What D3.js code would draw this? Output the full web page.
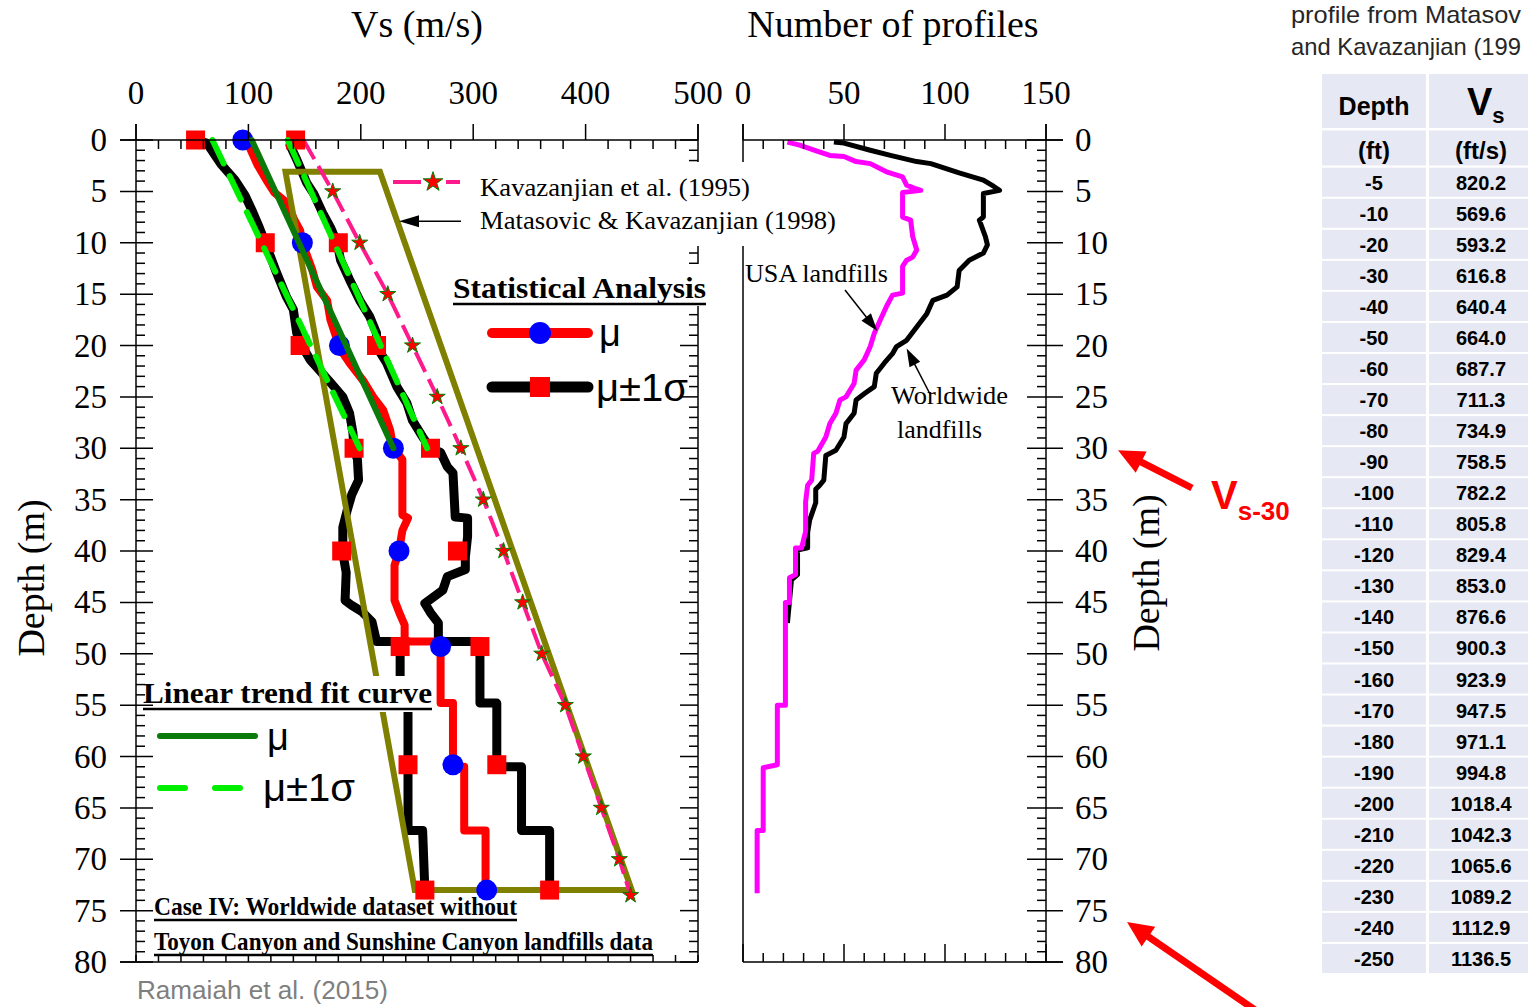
<!DOCTYPE html>
<html><head><meta charset="utf-8">
<script src="https://cdn.jsdelivr.net/npm/d3@7"></script>
<style>body{margin:0;background:#fff}svg{display:block}</style>
</head><body>
<svg id="c" width="1528" height="1007"></svg>
<script>
// ---------------- DATA ----------------
const vsTicks=[0,100,200,300,400,500];
const countTicks=[0,50,100,150];
const depthTicks=d3.range(0,81,5);

// statistical profiles [depth (m), Vs (m/s)]
const muMinusProfile=[[0,53],[0.3,63],[2.4,76],[3.9,88],[5.4,97],[6.8,103],[8.6,110],[10,115],[12.9,125],[15.3,134],[16.5,140],[18.8,143],[20.1,148],[21.4,155],[23.6,173],[25,184],[26.6,190],[28.5,193],[30,194],[31.1,197],[33.1,198],[34.5,192],[36,188],[37.7,184],[40.2,184],[42.1,187],[44.8,186],[45.3,192],[45.9,201],[46.9,210],[48.8,214],[48.8,235],[55,235],[55,242],[67.2,242],[67.2,255],[73,257]];
const muProfile=[[0,95],[0.7,101],[2.4,108],[3.9,116],[5.1,123],[6.1,134],[7.8,141],[8.8,146],[10,148],[12.7,157],[14.3,161],[15.6,170],[17.5,173],[19.5,179],[20.1,180],[21.7,190],[23.4,202],[25,211],[26.3,220],[28.2,226],[30,229],[31.1,237],[36.5,237],[36.8,242],[38,237],[40,234],[41.4,230],[44.8,230],[46.2,235],[47.2,239],[48.8,239],[48.8,271],[54.8,271],[54.8,282],[61,282],[61,292],[67.2,292],[67.2,311],[73,311]];
const muPlusProfile=[[0,138],[0.5,137],[1.9,143],[4.2,152],[5.2,158],[7.1,166],[8.5,173],[10,179],[11.7,182],[13.6,190],[15.6,199],[17.2,208],[18.8,214],[20.1,214],[21.7,223],[24,232],[25.6,241],[27.3,246],[28.9,255],[30,262],[30.4,271],[31.8,277],[32.4,282],[36.7,284],[36.8,295],[38.6,295],[40.6,293],[41.8,293],[42.5,277],[43.8,273],[45.1,257],[46,262],[47,269],[48.8,269],[48.8,306],[54.8,306],[54.8,321],[61,321],[61,343],[67.2,343],[67.2,368],[73,368]];
const markerDepths=[0,10,20,30,40,49.3,60.8,73];
const muMarkers=[95,148,181,229,234,271,282,312];
const muMinusMarkers=[53,115,146,194,183,235,242,257];
const muPlusMarkers=[142,180,214,262,286,306,321,368];
// linear trend fits
const trendMu=[[0,103],[30,229]];
const trendMinus=[[0,68],[30,199]];
const trendPlus=[[0,135],[30,259]];
// Kavazanjian et al. (1995)
const kavDepths=[0,5,10,15,20,25,30,35,40,45,50,55,60,65,70,73.5];
const kavVs=[149,175,199,224,246,268,289,309,327,344,361,382,398,414,430,440];
// Matasovic & Kavazanjian (1998) bounds
const matasovic=[[3.1,133],[3.1,217],[73,441],[73,248]];
// number of profiles [depth, count]
const worldwide=[[0.2,45],[0.3,50],[1,63],[1.5,73],[2.1,86],[2.3,93],[3.2,107],[3.9,119],[4.5,124],[4.9,127],[5.2,119],[7.5,119],[7.8,117],[9.4,120],[10.2,121],[11,119],[11.7,112],[12.7,107],[14.3,106],[15.1,101],[15.6,94],[16.9,91],[18.2,86],[19.5,81],[20.1,76],[20.8,74],[21.7,70],[22.7,66],[24,65],[24.7,60],[25.3,56],[26.6,55],[27.6,51],[28.9,50],[30.2,46],[30.7,41],[33.1,40],[33.6,38],[34,36],[35.3,36],[37,33],[38.2,32],[39.7,32],[39.9,27],[42.3,27],[42.8,24],[47,22]];
const usa=[[0.2,22],[0.5,28],[1.1,37],[1.5,43],[1.6,50],[2.1,56],[2.3,63],[3.1,71],[3.6,79],[4.4,81],[4.7,85],[4.9,88],[5,84],[5.1,79],[6.5,79],[7.5,79],[7.8,83],[9.4,84],[10.7,86],[11.4,84],[11.7,81],[12.3,79],[14.9,79],[15.1,74],[16.2,71],[17.5,68],[18.8,65],[20.1,63],[21.4,60],[22.4,56],[23.7,55],[25,51],[25.3,48],[26.6,46],[27.6,43],[28.9,41],[30.3,37],[30.5,35],[33.1,34],[33.6,32],[35.2,31],[38.1,31],[39.7,29],[39.7,26],[42.3,26],[42.6,23],[45,23],[45,21],[55,21],[55,17],[60.8,17],[61.1,10],[67.2,10],[67.2,7],[73.3,7]];
// table
const tableDepthFt=[-5,-10,-20,-30,-40,-50,-60,-70,-80,-90,-100,-110,-120,-130,-140,-150,-160,-170,-180,-190,-200,-210,-220,-230,-240,-250];
const tableVsFt=[820.2,569.6,593.2,616.8,640.4,664.0,687.7,711.3,734.9,758.5,782.2,805.8,829.4,853.0,876.6,900.3,923.9,947.5,971.1,994.8,1018.4,1042.3,1065.6,1089.2,1112.9,1136.5];

// ---------------- SETUP ----------------
const svg=d3.select('#c');
const serif="'Liberation Serif','Times New Roman',serif";
const sans="'Liberation Sans',Arial,sans-serif";
const xL=d3.scaleLinear().domain([0,500]).range([136,698]);
const xR=d3.scaleLinear().domain([0,150]).range([743,1046]);
const yD=d3.scaleLinear().domain([0,80]).range([140,962]);
const lineL=d3.line().x(d=>xL(d[1])).y(d=>yD(d[0]));
const lineR=d3.line().x(d=>xR(d[1])).y(d=>yD(d[0]));

function arrow(g,x1,y1,x2,y2,len,hw,color,w){
  const dx=x2-x1,dy=y2-y1,L=Math.hypot(dx,dy),ux=dx/L,uy=dy/L;
  const bx=x2-ux*len,by=y2-uy*len;
  g.append('line').attr('x1',x1).attr('y1',y1).attr('x2',bx+ux*2).attr('y2',by+uy*2)
    .attr('stroke',color).attr('stroke-width',w);
  g.append('path').attr('d',`M${x2},${y2}L${bx-uy*hw},${by+ux*hw}L${bx+uy*hw},${by-ux*hw}Z`).attr('fill',color);
}

// ---------------- LEFT PANEL DATA ----------------
const gL=svg.append('g');
const prof=(d,c,w)=>gL.append('path').attr('d',lineL(d)).attr('fill','none').attr('stroke',c)
  .attr('stroke-width',w).attr('stroke-linejoin','round').attr('stroke-linecap','round');
prof(muMinusProfile,'#000',9);
prof(muPlusProfile,'#000',9);
prof(muProfile,'#ff0000',8);
gL.append('path').attr('d',lineL(matasovic)+'Z').attr('fill','none').attr('stroke','#808000').attr('stroke-width',6);
const kav=kavDepths.map((d,i)=>[d,kavVs[i]]);
gL.append('path').attr('d',lineL(kav)).attr('fill','none').attr('stroke','#ff1a8c').attr('stroke-width',4).attr('stroke-dasharray','22,8');
const sq=19;
[muMinusMarkers,muPlusMarkers].forEach(arr=>{
  gL.selectAll(null).data(arr.map((v,i)=>[markerDepths[i],v])).enter().append('rect')
    .attr('x',d=>xL(d[1])-sq/2).attr('y',d=>yD(d[0])-sq/2).attr('width',sq).attr('height',sq).attr('fill','#ff0000');
});
gL.selectAll(null).data(muMarkers.map((v,i)=>[markerDepths[i],v])).enter().append('circle')
  .attr('cx',d=>xL(d[1])).attr('cy',d=>yD(d[0])).attr('r',10.5).attr('fill','#0000ff');
[trendMinus,trendPlus].forEach(t=>gL.append('path').attr('d',lineL(t)).attr('fill','none').attr('stroke','#00ee00')
  .attr('stroke-width',6).attr('stroke-dasharray','26,14').attr('stroke-linecap','round'));
gL.append('path').attr('d',lineL(trendMu)).attr('fill','none').attr('stroke','#0a7a0a').attr('stroke-width',6).attr('stroke-linecap','round');
const star=d3.symbol().type(d3.symbolStar);
gL.selectAll(null).data(kav.slice(1)).enter().append('path').attr('d',star.size(80)())
  .attr('transform',d=>`translate(${xL(d[1])},${yD(d[0])})`).attr('fill','#ff0000').attr('stroke','#008000').attr('stroke-width',1);

svg.append('rect').attr('x',140).attr('y',676).attr('width',296).attr('height',36).attr('fill','#fff');

// ---------------- RIGHT PANEL DATA ----------------
const gR=svg.append('g');
gR.append('path').attr('d',lineR(worldwide)).attr('fill','none').attr('stroke','#000').attr('stroke-width',5).attr('stroke-linejoin','round');
gR.append('path').attr('d',lineR(usa)).attr('fill','none').attr('stroke','#ff00ff').attr('stroke-width',5).attr('stroke-linejoin','round');

// ---------------- AXES ----------------
const ax=svg.append('g').attr('stroke','#000').attr('stroke-width',1.5);
const ln=(x1,y1,x2,y2)=>ax.append('line').attr('x1',x1).attr('y1',y1).attr('x2',x2).attr('y2',y2);
ln(120,yD(0),xL(500),yD(0)); ln(120,yD(80),xL(500),yD(80));
ln(xL(0),124,xL(0),yD(80)); ln(xL(500),124,xL(500),yD(80));
d3.range(0,501,20).forEach(v=>{
  if(v%100===0) ln(xL(v),124,xL(v),yD(0)); else ln(xL(v),yD(0),xL(v),yD(0)+9);
  ln(xL(v),yD(80),xL(v),yD(80)-7);
});
d3.range(0,81,1).forEach(d=>{
  if(d%5===0){ln(120,yD(d),153,yD(d)); ln(xL(500)-18,yD(d),xL(500),yD(d));}
  else{ln(xL(0),yD(d),xL(0)+9,yD(d)); ln(xL(500)-9,yD(d),xL(500),yD(d));}
});
ln(xR(0),yD(0),1063,yD(0)); ln(xR(0),yD(80),1063,yD(80));
ln(xR(0),124,xR(0),yD(80)); ln(xR(150),124,xR(150),yD(80));
d3.range(0,151,10).forEach(v=>{
  if(v%50===0){ln(xR(v),124,xR(v),yD(0)); ln(xR(v),yD(80),xR(v),yD(80)-18);}
  else{ln(xR(v),yD(0),xR(v),yD(0)+9); ln(xR(v),yD(80),xR(v),yD(80)-9);}
});
d3.range(0,81,1).forEach(d=>{
  if(d%5===0) ln(xR(150)-19,yD(d),1063,yD(d)); else ln(xR(150)-9,yD(d),xR(150),yD(d));
});

svg.append('rect').attr('x',470).attr('y',162).attr('width',372).attr('height',84).attr('fill','#fff');
svg.append('rect').attr('x',448).attr('y',264).attr('width',262).attr('height',42).attr('fill','#fff');

// ---------------- TEXT ----------------
const T=(x,y,s,o={})=>{const t=svg.append('text').attr('x',x).attr('y',y).text(s)
  .attr('font-family',o.f||serif).attr('font-size',o.s||33).attr('fill',o.c||'#000')
  .attr('text-anchor',o.a||'start').attr('font-weight',o.w||'normal');
  if(o.tl) t.attr('textLength',o.tl).attr('lengthAdjust','spacingAndGlyphs'); return t;};
vsTicks.forEach(v=>T(xL(v),104,v,{a:'middle'}));
countTicks.forEach(v=>T(xR(v),104,v,{a:'middle'}));
depthTicks.forEach(d=>{T(107,yD(d)+11,d,{a:'end'}); T(1075,yD(d)+11,d);});
T(417,37,'Vs (m/s)',{a:'middle',s:38});
T(893,37,'Number of profiles',{a:'middle',s:38});
T(0,0,'Depth (m)',{a:'middle',s:38}).attr('transform','translate(44,578) rotate(-90)');
T(0,0,'Depth (m)',{a:'middle',s:38}).attr('transform','translate(1159,573) rotate(-90)');

svg.append('line').attr('x1',393).attr('x2',421).attr('y1',182).attr('y2',182).attr('stroke','#ff1a8c').attr('stroke-width',4);
svg.append('line').attr('x1',446).attr('x2',460).attr('y1',182).attr('y2',182).attr('stroke','#ff1a8c').attr('stroke-width',4);
svg.append('path').attr('d',star.size(120)()).attr('transform','translate(433,182)').attr('fill','#ff0000').attr('stroke','#008000').attr('stroke-width',1);
T(480,196,'Kavazanjian et al. (1995)',{s:26,tl:270});
T(480,229,'Matasovic & Kavazanjian (1998)',{s:26,tl:356});
arrow(svg,461,yD(7.9),xL(234),yD(7.9),20,6,'#000',1.5);

const ul=(x,y,w,yy)=>svg.append('line').attr('x1',x).attr('x2',x+w).attr('y1',yy).attr('y2',yy).attr('stroke','#000').attr('stroke-width',2.5);
T(453,298,'Statistical Analysis',{s:30,w:'bold',tl:253}); ul(453,298,253,304);
svg.append('line').attr('x1',492).attr('x2',588).attr('y1',333).attr('y2',333).attr('stroke','#ff0000').attr('stroke-width',10).attr('stroke-linecap','round');
svg.append('circle').attr('cx',540).attr('cy',333).attr('r',11).attr('fill','#0000ff');
T(599,346,'μ',{f:sans,s:38});
svg.append('line').attr('x1',492).attr('x2',588).attr('y1',387).attr('y2',387).attr('stroke','#000').attr('stroke-width',11).attr('stroke-linecap','round');
svg.append('rect').attr('x',530).attr('y',377).attr('width',20).attr('height',20).attr('fill','#ff0000');
T(596,401,'μ±1σ',{f:sans,s:38,tl:92});

T(143,703,'Linear trend fit curve',{s:30,w:'bold',tl:289}); ul(143,703,289,709);
svg.append('line').attr('x1',160).attr('x2',255).attr('y1',736).attr('y2',736).attr('stroke','#0a7a0a').attr('stroke-width',6).attr('stroke-linecap','round');
T(267,750,'μ',{f:sans,s:38});
svg.append('line').attr('x1',160).attr('x2',243).attr('y1',788).attr('y2',788).attr('stroke','#00ee00').attr('stroke-width',6).attr('stroke-linecap','round').attr('stroke-dasharray','25,30');
T(263,801,'μ±1σ',{f:sans,s:38,tl:92});

T(154,915,'Case IV: Worldwide dataset without',{s:26,w:'bold',tl:363}); ul(154,915,363,920);
T(154,950,'Toyon Canyon and Sunshine Canyon landfills data',{s:26,w:'bold',tl:499}); ul(154,950,499,955);
T(137,999,'Ramaiah et al. (2015)',{f:sans,s:26,c:'#7f7f7f',tl:251});

T(745,282,'USA landfills',{s:26,tl:143});
arrow(svg,845,290,xR(66.5),yD(18.6),18,6,'#000',1.5);
T(891,404,'Worldwide',{s:26,tl:117});
T(897,438,'landfills',{s:26,tl:85});
arrow(svg,930,394,xR(81),yD(20.3),18,6,'#000',1.5);

arrow(svg,1192,488,1118,yD(30.2),26,12,'#ff0000',7);
arrow(svg,1258,1012,1127,922,26,12,'#ff0000',7);
const vt=T(1211,509,'V',{f:sans,s:40,w:'bold',c:'#ff0000'});
vt.append('tspan').attr('font-size',26).attr('dy',11).text('s-30');

// ---------------- TABLE ----------------
T(1291,23,'profile from Matasov',{f:sans,s:24,c:'#262626',tl:230});
T(1291,55,'and Kavazanjian (199',{f:sans,s:24,c:'#262626',tl:230});
const tb=svg.append('g');
const cols=[[1322,104],[1429,110]];
const cell='#e6e9f3';
cols.forEach(c=>{
  tb.append('rect').attr('x',c[0]).attr('y',74).attr('width',c[1]).attr('height',54).attr('fill',cell);
  tb.append('rect').attr('x',c[0]).attr('y',130.5).attr('width',c[1]).attr('height',35).attr('fill',cell);
});
const rowY=d3.scaleLinear().domain([0,26]).range([167.7,975]);
tableDepthFt.forEach((d,i)=>{
  cols.forEach(c=>tb.append('rect').attr('x',c[0]).attr('y',rowY(i)).attr('width',c[1]).attr('height',rowY(1)-rowY(0)-2).attr('fill',cell));
  T(1374,rowY(i)+22,d,{f:sans,s:20,w:'bold',a:'middle'});
  T(1481,rowY(i)+22,d3.format('.1f')(tableVsFt[i]),{f:sans,s:20,w:'bold',a:'middle'});
});
T(1374,115,'Depth',{f:sans,s:25,w:'bold',a:'middle'});
const vs=T(1467,115,'V',{f:sans,s:38,w:'bold'});
vs.append('tspan').attr('font-size',22).attr('dy',8).text('s');
T(1374,159,'(ft)',{f:sans,s:24,w:'bold',a:'middle'});
T(1481,159,'(ft/s)',{f:sans,s:24,w:'bold',a:'middle'});
</script>
</body></html>
